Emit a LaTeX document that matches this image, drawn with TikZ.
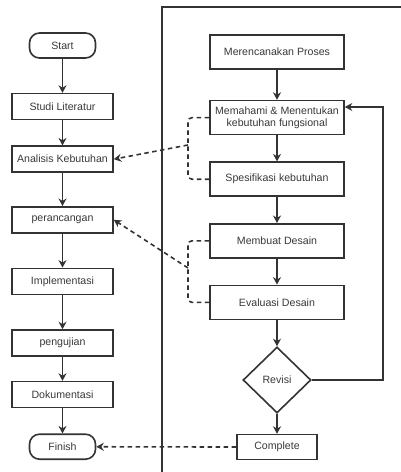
\documentclass[tikz,border=0pt]{standalone}
\usepackage{fontspec}
\setmainfont{Liberation Sans}
\usetikzlibrary{positioning, arrows.meta, shapes.geometric}
\colorlet{mygray}{black!80}
\colorlet{mytext}{black!78}
\tikzset{
  >=Stealth,
  proc/.style={draw=mygray,line width=1.6pt,text=mytext,minimum width=101,minimum height=26,inner sep=1,align=center,
    font=\fontsize{10.6}{12}\selectfont},
  proc wide/.style={proc,minimum width=134,minimum height=34},
  terminal/.style={proc,rounded corners=10,minimum width=66,minimum height=25},
  decision/.style={proc,diamond,minimum width=68,minimum height=66,inner sep=0},
  connect arrow/.style={-{Stealth[length=7.5,width=8]},line width=1.6pt,mygray},
  connect dashed/.style={line width=1.6pt,mygray,dash pattern=on 4.5pt off 3.5pt},
  dashed arrow/.style={connect dashed,-{Stealth[length=7.5,width=8]}}
}

\begin{document}
\begin{tikzpicture}
  \useasboundingbox (0,0) rectangle (401pt,-472pt);

  % Lane border
  \draw[mygray,line width=1.6pt] (401pt,-7pt) -- (162pt,-7pt) -- (162pt,-472pt);

  % Main flow
  \node[terminal] (start) at (62.5pt,-45.5pt) {Start};
  \node[proc, below=34pt of start] (studi) {Studi Literatur};
  \node[proc, below=25pt of studi] (analisis) {Analisis Kebutuhan};
  \node[proc, below=33pt of analisis] (rancang) {perancangan};
  \node[proc, below=34pt of rancang] (impl) {Implementasi};
  \node[proc, below=34pt of impl] (uji) {pengujian};
  \node[proc, below=24pt of uji] (dok) {Dokumentasi};
  \node[terminal, below=25pt of dok] (finish) {Finish};

  % Design process
  \node[proc wide] (rencana) at (277pt,-52pt) {Merencanakan Proses};
  \node[proc wide, below=30pt of rencana] (paham) {Memahami \& Menentukan\\kebutuhan fungsional};
  \node[proc wide, below=26pt of paham] (spek) {Spesifikasi kebutuhan};
  \node[proc wide, below=26pt of spek] (desain) {Membuat Desain};
  \node[proc wide, below=26pt of desain] (eval) {Evaluasi Desain};
  \node[decision, below=26pt of eval] (revisi) {Revisi};
  \node[proc, minimum width=80, minimum height=25, below=20pt of revisi] (complete) {Complete};

  \coordinate (brA) at (188pt,-145pt);
  \coordinate (brB) at (188pt,-268pt);
  \coordinate (loop) at (383pt,-107pt);

  % Main flow arrows
  \draw[connect arrow] (start) -- (studi);
  \draw[connect arrow] (studi) -- (analisis);
  \draw[connect arrow] (analisis) -- (rancang);
  \draw[connect arrow] (rancang) -- (impl);
  \draw[connect arrow] (impl) -- (uji);
  \draw[connect arrow] (uji) -- (dok);
  \draw[connect arrow] (dok) -- (finish);

  % Design process arrows
  \draw[connect arrow] (rencana) -- (paham);
  \draw[connect arrow] (paham) -- (spek);
  \draw[connect arrow] (spek) -- (desain);
  \draw[connect arrow] (desain) -- (eval);
  \draw[connect arrow] (eval) -- (revisi);
  \draw[connect arrow] (revisi) -- (complete);
  \draw[connect arrow] (revisi.east) -| (loop) -- (paham.east |- loop);

  % Dashed links
  \draw[connect dashed, rounded corners=4pt] (paham.west) -| (brA) |- (spek.west);
  \draw[dashed arrow] (brA) -- (analisis.east);
  \draw[connect dashed, rounded corners=4pt] (desain.west) -| (brB) |- (eval.west);
  \draw[dashed arrow] (brB) -- (rancang.east);
  \draw[dashed arrow] (complete) -- (finish);

\end{tikzpicture}
\end{document}
